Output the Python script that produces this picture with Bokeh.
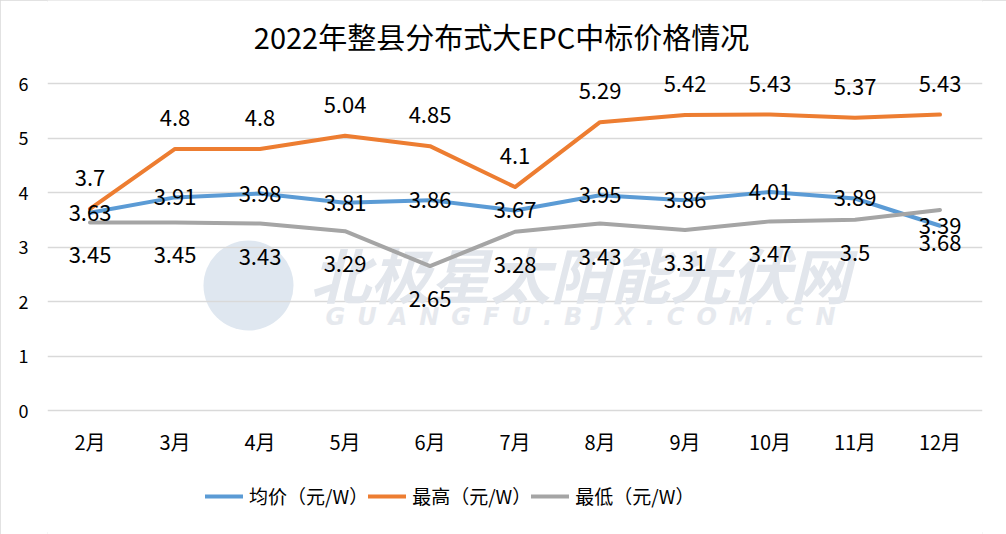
from bokeh.plotting import figure
from bokeh.models import (ColumnDataSource, FactorRange, Range1d, LabelSet, Legend, LegendItem,
                          Label, FixedTicker)
from bokeh.core.properties import value
from bokeh.embed import file_html
from bokeh.resources import INLINE

months = ["2月", "3月", "4月", "5月", "6月", "7月", "8月", "9月", "10月", "11月", "12月"]
avg_price = [3.63, 3.91, 3.98, 3.81, 3.86, 3.67, 3.95, 3.86, 4.01, 3.89, 3.39]
max_price = [3.7, 4.8, 4.8, 5.04, 4.85, 4.1, 5.29, 5.42, 5.43, 5.37, 5.43]
min_price = [3.45, 3.45, 3.43, 3.29, 2.65, 3.28, 3.43, 3.31, 3.47, 3.5, 3.68]
y_ticks = [0, 1, 2, 3, 4, 5, 6]
series_names = ["均价（元/W）", "最高（元/W）", "最低（元/W）"]
title_text = "2022年整县分布式大EPC中标价格情况"
watermark_cn = "北极星太阳能光伏网"
watermark_en = "\u2002".join("GUANGFU.BJX.COM.CN")

FONT = "Noto Sans CJK SC"

W, H = 1006, 534
LEFT, RIGHT = 47, 24
ZERO_PX, SIX_PX = 410, 83           # screen rows of value 0 and value 6
PPU = (ZERO_PX - SIX_PX) / 6.0      # pixels per unit
y_lo = -(H - ZERO_PX) / PPU
y_hi = 6 + SIX_PX / PPU
n = len(months)
CAT_W = (W - LEFT - RIGHT) / n


def sx(px):
    return (px - LEFT) / CAT_W


def sy(py):
    return (ZERO_PX - py) / PPU


src = ColumnDataSource(dict(
    m=months, avg=avg_price, mx=max_price, mn=min_price,
    base=[0] * n,
    avg_t=[str(v) for v in avg_price],
    mx_t=[str(v) for v in max_price],
    mn_t=[str(v) for v in min_price],
))

p = figure(width=W, height=H, x_range=FactorRange(*months), y_range=Range1d(y_lo, y_hi),
           output_backend="svg", toolbar_location=None,
           min_border_left=LEFT, min_border_right=RIGHT, min_border_top=0, min_border_bottom=0)
p.outline_line_color = None
p.border_fill_color = "white"
p.background_fill_color = "white"
p.styles = {"outline": "2px solid #d9d9d9", "outline-offset": "-2px"}

p.xaxis.visible = False
p.xgrid.grid_line_color = None
p.ygrid.grid_line_color = "#d9d9d9"
p.ygrid.grid_line_width = 1.3
p.yaxis.ticker = FixedTicker(ticks=y_ticks)
p.yaxis.axis_line_color = None
p.yaxis.major_tick_line_color = None
p.yaxis.minor_tick_line_color = None
p.yaxis.major_label_text_font = FONT
p.yaxis.major_label_text_font_size = "18px"
p.yaxis.major_label_text_color = "#000000"
p.yaxis.major_label_standoff = 13

# title
p.add_layout(Label(x=sx(501), y=sy(35), text=title_text, text_font=FONT, text_font_size="29px",
                   text_color="#000000", text_align="center", text_baseline="middle"))

# watermark (underlay)
p.circle(x=[sx(248)], y=[sy(285)], radius=45, radius_units="screen",
         fill_color="#dfe7f0", line_color=None, level="underlay")
p.add_layout(Label(x=sx(580), y=sy(272), text=watermark_cn, text_font=FONT, text_font_size="60px",
                   text_font_style="bold italic", text_color="#e2e6ec",
                   text_align="center", text_baseline="middle", level="underlay"))
p.add_layout(Label(x=sx(580), y=sy(316), text=watermark_en, text_font="DejaVu Sans",
                   text_font_size="24px", text_font_style="bold italic", text_color="#e6e9ee",
                   text_align="center", text_baseline="middle", level="underlay"))

r_avg = p.line("m", "avg", source=src, line_color="#5B9BD5", line_width=4, line_join="round", line_cap="round")
r_max = p.line("m", "mx", source=src, line_color="#ED7D31", line_width=4, line_join="round", line_cap="round")
r_min = p.line("m", "mn", source=src, line_color="#A5A5A5", line_width=4, line_join="round", line_cap="round")

common = dict(text_font=value(FONT), text_font_size=value("22px"), text_color="#000000",
              text_align="center", text_baseline="middle")
p.add_layout(LabelSet(x="m", y="mx", text="mx_t", source=src, y_offset=31, **common))
p.add_layout(LabelSet(x="m", y="avg", text="avg_t", source=src, y_offset=0, **common))
p.add_layout(LabelSet(x="m", y="mn", text="mn_t", source=src, y_offset=-33, **common))

# category labels (x axis)
p.add_layout(LabelSet(x="m", y="base", text="m", source=src, y_offset=-31,
                      text_font=value(FONT), text_font_size=value("20px"), text_color="#000000",
                      text_align="center", text_baseline="middle"))

legend = Legend(items=[LegendItem(label=series_names[0], renderers=[r_avg]),
                       LegendItem(label=series_names[1], renderers=[r_max]),
                       LegendItem(label=series_names[2], renderers=[r_min])],
                orientation="horizontal", location=(158, 25),
                label_text_font=FONT, label_text_font_size="19px", label_text_color="#000000",
                glyph_width=38, spacing=0, label_standoff=6, border_line_color=None,
                background_fill_alpha=0, margin=0, padding=4)
p.add_layout(legend)

open("out.html", "w").write(file_html(p, INLINE))
